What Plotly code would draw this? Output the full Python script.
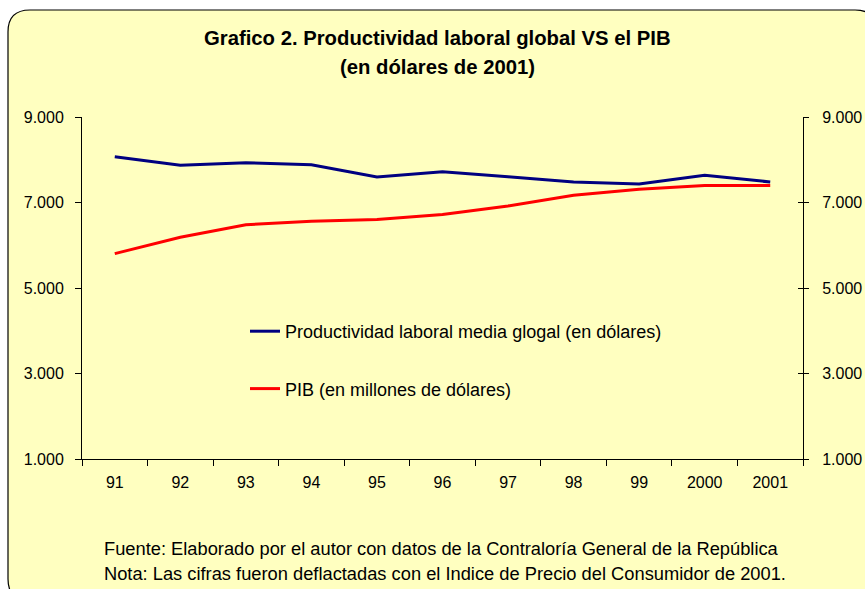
import plotly.graph_objects as go

years = ["91", "92", "93", "94", "95", "96", "97", "98", "99", "2000", "2001"]
productividad = [8070, 7870, 7930, 7885, 7595, 7720, 7600, 7480, 7435, 7640, 7480]
pib = [5805, 6185, 6480, 6560, 6605, 6720, 6920, 7170, 7310, 7395, 7395]
y_ticks = [1000, 3000, 5000, 7000, 9000]

title_lines = ["Grafico 2. Productividad laboral global VS el PIB", "(en dólares de 2001)"]
notes = [
    "Fuente: Elaborado por el autor con datos de la Contraloría General de la República",
    "Nota: Las cifras fueron deflactadas con el Indice de Precio del Consumidor de 2001.",
]
names = ["Productividad laboral media glogal (en dólares)", "PIB (en millones de dólares)"]

W, H = 865, 589
L, R, T, B = 82, 803, 117, 459
FONT = "Liberation Sans, Arial, sans-serif"
BG = "#FFFFC0"


def px(x):
    return (x - L) / (R - L)


def py(y):
    return (B - y) / (B - T)


def rounded_rect(x0, y0, x1, y1, r):
    pts = [
        f"M {px(x0 + r)},{py(y0)}",
        f"L {px(x1 - r)},{py(y0)}",
        f"Q {px(x1)},{py(y0)} {px(x1)},{py(y0 + r)}",
        f"L {px(x1)},{py(y1 - r)}",
        f"Q {px(x1)},{py(y1)} {px(x1 - r)},{py(y1)}",
        f"L {px(x0 + r)},{py(y1)}",
        f"Q {px(x0)},{py(y1)} {px(x0)},{py(y1 - r)}",
        f"L {px(x0)},{py(y0 + r)}",
        f"Q {px(x0)},{py(y0)} {px(x0 + r)},{py(y0)}",
        "Z",
    ]
    return " ".join(pts)


fig = go.Figure()
fig.add_trace(go.Scatter(x=years, y=productividad, mode="lines", name=names[0],
                         line=dict(color="#000080", width=3), legendgroup="a"))
fig.add_trace(go.Scatter(x=years, y=pib, mode="lines", name=names[1],
                         line=dict(color="#FF0000", width=3), legendgroup="b"))
fig.add_trace(go.Scatter(x=years, y=[None] * len(years), yaxis="y2", showlegend=False,
                         hoverinfo="skip"))
fig.add_trace(go.Scatter(x=years, y=[None] * len(years), yaxis="y3", showlegend=False,
                         hoverinfo="skip"))

axis_common = dict(range=[1000, 9000], tickvals=y_ticks, tickformat=",.0f",
                   showgrid=False, zeroline=False, linecolor="#000000", linewidth=1,
                   tickcolor="#000000", automargin=False,
                   tickfont=dict(family=FONT, size=16, color="#000000"))

fig.update_layout(
    width=W, height=H, autosize=False,
    margin=dict(l=L, r=W - R, t=T, b=H - B, pad=0),
    paper_bgcolor="white", plot_bgcolor="rgba(0,0,0,0)",
    separators=",.",
    font=dict(family=FONT, size=16, color="#000000"),
    xaxis=dict(type="category", range=[-0.5, len(years) - 0.5], tickson="boundaries",
               ticks="outside", ticklen=6, automargin=False,
               tickcolor="#000000", showline=True, linecolor="#000000", linewidth=1,
               showgrid=False, ticklabelstandoff=9,
               tickfont=dict(family=FONT, size=16, color="#000000")),
    yaxis=dict(side="left", ticks="outside", ticklen=6, showline=True,
               ticklabelstandoff=8, **axis_common),
    yaxis2=dict(side="right", overlaying="y", ticks="outside", ticklen=5, showline=True,
                ticklabelstandoff=10, **axis_common),
    yaxis3=dict(side="right", overlaying="y", ticks="inside", ticklen=5, showline=False,
                showticklabels=False, **{k: v for k, v in axis_common.items() if k != "tickfont"}),
    showlegend=True,
    legend=dict(x=px(245), y=py(313), xanchor="left", yanchor="top",
                bgcolor="rgba(0,0,0,0)", borderwidth=0,
                traceorder="grouped", tracegroupgap=31,
                font=dict(family=FONT, size=18, color="#000000")),
    shapes=[dict(type="path", xref="paper", yref="paper", layer="below",
                 path=rounded_rect(8, 10, 877, 601, 22),
                 fillcolor=BG, line=dict(color="#000000", width=1.2))],
)

fig.add_annotation(text="<b>" + title_lines[0] + "</b>", xref="paper", yref="paper",
                   x=px(437), y=py(38), xanchor="center", yanchor="middle", showarrow=False,
                   font=dict(family=FONT, size=20.3, color="#000000"))
fig.add_annotation(text="<b>" + title_lines[1] + "</b>", xref="paper", yref="paper",
                   x=px(437), y=py(67), xanchor="center", yanchor="middle", showarrow=False,
                   font=dict(family=FONT, size=20.3, color="#000000"))
fig.add_annotation(text=notes[0], xref="paper", yref="paper",
                   x=px(102), y=py(548), xanchor="left", yanchor="middle", showarrow=False,
                   font=dict(family=FONT, size=18.3, color="#000000"))
fig.add_annotation(text=notes[1], xref="paper", yref="paper",
                   x=px(102), y=py(573), xanchor="left", yanchor="middle", showarrow=False,
                   font=dict(family=FONT, size=18.3, color="#000000"))

fig.write_html("out.html", config={"displayModeBar": False},
               post_script="document.body.style.margin='0';document.body.style.overflow='hidden';")
